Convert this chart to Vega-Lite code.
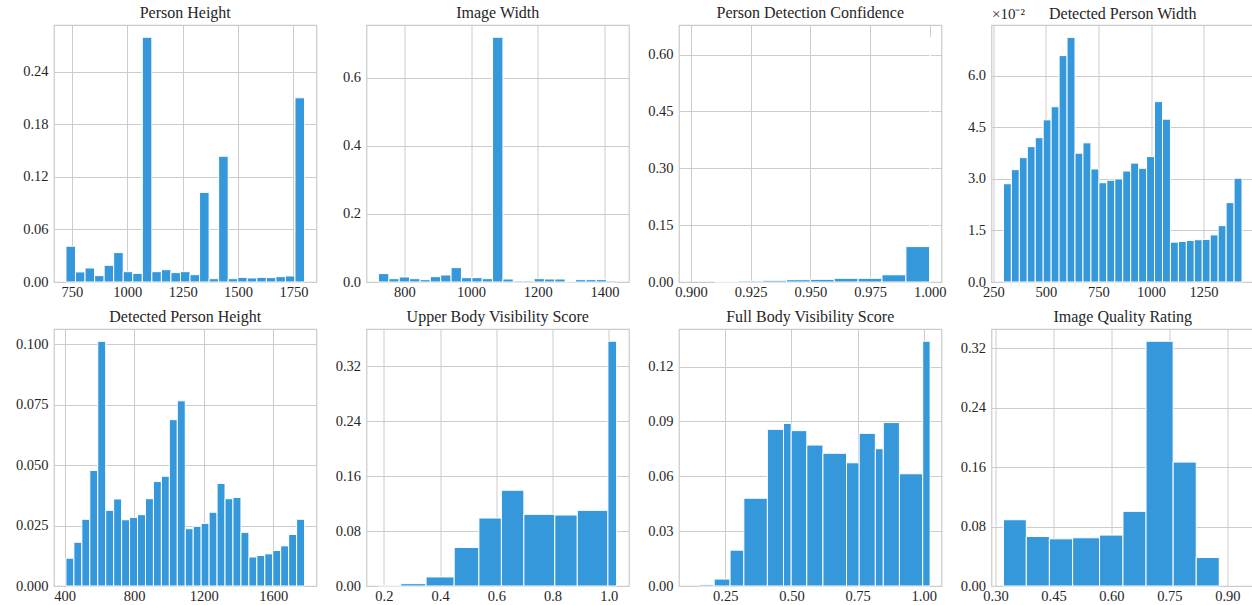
{
  "$schema": "https://vega.github.io/schema/vega-lite/v6.json",
  "padding": {"left": 14, "top": 4, "right": 0, "bottom": 0},
  "background": "white",
  "columns": 4,
  "bounds": "flush",
  "spacing": {"row": 47, "column": 49.5},
  "config": {
    "font": "Liberation Serif",
    "view": {"stroke": "#cccccc", "strokeWidth": 1.25},
    "axis": {"grid": true, "gridColor": "#cccccc", "gridWidth": 1, "domain": false, "ticks": false, "labelFont": "Liberation Serif", "labelFontSize": 14.5, "labelColor": "#262626", "labelFlush": false, "labelOverlap": false, "title": null},
    "axisX": {"labelPadding": 3},
    "axisY": {"labelPadding": 6},
    "title": {"font": "Liberation Serif", "fontSize": 16, "fontWeight": "normal", "color": "#262626", "offset": 4, "anchor": "middle", "frame": "group"},
    "bar": {"color": "#3498db", "stroke": "white", "strokeWidth": 1}
  },
  "concat": [
    {
      "title": "Person Height",
      "width": 262.5, "height": 257,
      "data": {"values": [
        {"x0": 723, "x1": 766.08, "y": 0.0409},
        {"x0": 766.08, "x1": 809.16, "y": 0.0115},
        {"x0": 809.16, "x1": 852.24, "y": 0.016},
        {"x0": 852.24, "x1": 895.32, "y": 0.0073},
        {"x0": 895.32, "x1": 938.4, "y": 0.0191},
        {"x0": 938.4, "x1": 981.48, "y": 0.0336},
        {"x0": 981.48, "x1": 1024.56, "y": 0.0118},
        {"x0": 1024.56, "x1": 1067.64, "y": 0.0099},
        {"x0": 1067.64, "x1": 1110.72, "y": 0.2797},
        {"x0": 1110.72, "x1": 1153.8, "y": 0.0118},
        {"x0": 1153.8, "x1": 1196.88, "y": 0.0141},
        {"x0": 1196.88, "x1": 1239.96, "y": 0.0107},
        {"x0": 1239.96, "x1": 1283.04, "y": 0.0118},
        {"x0": 1283.04, "x1": 1326.12, "y": 0.0084},
        {"x0": 1326.12, "x1": 1369.2, "y": 0.1024},
        {"x0": 1369.2, "x1": 1412.28, "y": 0.0038},
        {"x0": 1412.28, "x1": 1455.36, "y": 0.1437},
        {"x0": 1455.36, "x1": 1498.44, "y": 0.0038},
        {"x0": 1498.44, "x1": 1541.52, "y": 0.0053},
        {"x0": 1541.52, "x1": 1584.6, "y": 0.0046},
        {"x0": 1584.6, "x1": 1627.68, "y": 0.0053},
        {"x0": 1627.68, "x1": 1670.76, "y": 0.005},
        {"x0": 1670.76, "x1": 1713.84, "y": 0.0061},
        {"x0": 1713.84, "x1": 1756.92, "y": 0.0069},
        {"x0": 1756.92, "x1": 1800, "y": 0.2105}
      ]},
      "mark": "bar",
      "encoding": {
        "x": {"field": "x0", "type": "quantitative", "scale": {"domain": [669, 1854], "nice": false, "zero": false}, "axis": {"values": [750, 1000, 1250, 1500, 1750], "format": "d"}},
        "x2": {"field": "x1"},
        "y": {"field": "y", "type": "quantitative", "scale": {"domain": [0, 0.2937], "nice": false}, "axis": {"values": [0, 0.06, 0.12, 0.18, 0.24], "format": ".2f"}},
        "y2": {"datum": 0}
      }
    },
    {
      "title": "Image Width",
      "width": 262.5, "height": 257,
      "data": {"values": [
        {"x0": 722.5, "x1": 753.6, "y": 0.0246},
        {"x0": 753.6, "x1": 784.7, "y": 0.0098},
        {"x0": 784.7, "x1": 815.8, "y": 0.0147},
        {"x0": 815.8, "x1": 846.9, "y": 0.0098},
        {"x0": 846.9, "x1": 878.0, "y": 0.0069},
        {"x0": 878.0, "x1": 909.1, "y": 0.0157},
        {"x0": 909.1, "x1": 940.2, "y": 0.0206},
        {"x0": 940.2, "x1": 971.3, "y": 0.0422},
        {"x0": 971.3, "x1": 1002.4, "y": 0.0128},
        {"x0": 1002.4, "x1": 1033.5, "y": 0.0128},
        {"x0": 1033.5, "x1": 1064.6, "y": 0.0098},
        {"x0": 1064.6, "x1": 1095.7, "y": 0.7188},
        {"x0": 1095.7, "x1": 1126.8, "y": 0.0088},
        {"x0": 1126.8, "x1": 1157.9, "y": 0.003},
        {"x0": 1157.9, "x1": 1189.0, "y": 0.003},
        {"x0": 1189.0, "x1": 1220.1, "y": 0.0098},
        {"x0": 1220.1, "x1": 1251.2, "y": 0.0088},
        {"x0": 1251.2, "x1": 1282.3, "y": 0.0088},
        {"x0": 1282.3, "x1": 1313.4, "y": 0.002},
        {"x0": 1313.4, "x1": 1344.5, "y": 0.0069},
        {"x0": 1344.5, "x1": 1375.6, "y": 0.0069},
        {"x0": 1375.6, "x1": 1406.7, "y": 0.0069},
        {"x0": 1406.7, "x1": 1437.8, "y": 0.003}
      ]},
      "mark": "bar",
      "encoding": {
        "x": {"field": "x0", "type": "quantitative", "scale": {"domain": [686.7, 1473.6], "nice": false, "zero": false}, "axis": {"values": [800, 1000, 1200, 1400], "format": "d"}},
        "x2": {"field": "x1"},
        "y": {"field": "y", "type": "quantitative", "scale": {"domain": [0, 0.7547], "nice": false}, "axis": {"values": [0, 0.2, 0.4, 0.6], "format": ".1f"}},
        "y2": {"datum": 0}
      }
    },
    {
      "title": "Person Detection Confidence",
      "width": 262.5, "height": 257,
      "data": {"values": [
        {"x0": 0.91, "x1": 0.92, "y": 0.0009},
        {"x0": 0.92, "x1": 0.93, "y": 0.0026},
        {"x0": 0.93, "x1": 0.94, "y": 0.0044},
        {"x0": 0.94, "x1": 0.95, "y": 0.006},
        {"x0": 0.95, "x1": 0.96, "y": 0.007},
        {"x0": 0.96, "x1": 0.97, "y": 0.0097},
        {"x0": 0.97, "x1": 0.98, "y": 0.0097},
        {"x0": 0.98, "x1": 0.99, "y": 0.019},
        {"x0": 0.99, "x1": 0.99995, "y": 0.0934},
        {"x0": 1.0001, "x1": 1.0003, "y": 0.646}
      ]},
      "mark": "bar",
      "encoding": {
        "x": {"field": "x0", "type": "quantitative", "scale": {"domain": [0.895, 1.0049], "nice": false, "zero": false}, "axis": {"values": [0.9, 0.925, 0.95, 0.975, 1.0], "format": ".3f"}},
        "x2": {"field": "x1"},
        "y": {"field": "y", "type": "quantitative", "scale": {"domain": [0, 0.678], "nice": false}, "axis": {"values": [0, 0.15, 0.3, 0.45, 0.6], "format": ".2f"}},
        "y2": {"datum": 0}
      }
    },
    {
      "title": {"text": "Detected Person Width", "offset": -16},
      "width": 262.5, "height": 257,
      "data": {"values": [
        {"x0": 297.8, "x1": 335.64, "y": 0.0286},
        {"x0": 335.64, "x1": 373.48, "y": 0.0327},
        {"x0": 373.48, "x1": 411.32, "y": 0.0362},
        {"x0": 411.32, "x1": 449.16, "y": 0.0394},
        {"x0": 449.16, "x1": 487.0, "y": 0.042},
        {"x0": 487.0, "x1": 524.84, "y": 0.0472},
        {"x0": 524.84, "x1": 562.68, "y": 0.051},
        {"x0": 562.68, "x1": 600.52, "y": 0.0659},
        {"x0": 600.52, "x1": 638.36, "y": 0.0712},
        {"x0": 638.36, "x1": 676.2, "y": 0.0375},
        {"x0": 676.2, "x1": 714.04, "y": 0.0405},
        {"x0": 714.04, "x1": 751.88, "y": 0.0329},
        {"x0": 751.88, "x1": 789.72, "y": 0.0289},
        {"x0": 789.72, "x1": 827.56, "y": 0.0296},
        {"x0": 827.56, "x1": 865.4, "y": 0.03},
        {"x0": 865.4, "x1": 903.24, "y": 0.0323},
        {"x0": 903.24, "x1": 941.08, "y": 0.0346},
        {"x0": 941.08, "x1": 978.92, "y": 0.0331},
        {"x0": 978.92, "x1": 1016.76, "y": 0.0365},
        {"x0": 1016.76, "x1": 1054.6, "y": 0.0525},
        {"x0": 1054.6, "x1": 1092.44, "y": 0.0474},
        {"x0": 1092.44, "x1": 1130.28, "y": 0.0116},
        {"x0": 1130.28, "x1": 1168.12, "y": 0.0118},
        {"x0": 1168.12, "x1": 1205.96, "y": 0.0121},
        {"x0": 1205.96, "x1": 1243.8, "y": 0.0123},
        {"x0": 1243.8, "x1": 1281.64, "y": 0.0124},
        {"x0": 1281.64, "x1": 1319.48, "y": 0.0137},
        {"x0": 1319.48, "x1": 1357.32, "y": 0.0164},
        {"x0": 1357.32, "x1": 1395.16, "y": 0.0231},
        {"x0": 1395.16, "x1": 1433.0, "y": 0.0302}
      ]},
      "mark": "bar",
      "encoding": {
        "x": {"field": "x0", "type": "quantitative", "scale": {"domain": [241, 1490], "nice": false, "zero": false}, "axis": {"values": [250, 500, 750, 1000, 1250], "format": "d"}},
        "x2": {"field": "x1"},
        "y": {"field": "y", "type": "quantitative", "scale": {"domain": [0, 0.0748], "nice": false}, "axis": {"values": [0, 0.015, 0.03, 0.045, 0.06], "labelExpr": "format(datum.value * 100, '.1f')", "title": "×10⁻²", "titleAngle": 0, "titleAlign": "left", "titleBaseline": "bottom", "titleX": 0, "titleY": -4, "titleFont": "Liberation Serif", "titleFontSize": 15, "titleFontWeight": "normal", "titleColor": "#262626"}},
        "y2": {"datum": 0}
      }
    },
    {
      "title": "Detected Person Height",
      "width": 262.5, "height": 257,
      "data": {"values": [
        {"x0": 407.7, "x1": 453.46, "y": 0.0115},
        {"x0": 453.46, "x1": 499.23, "y": 0.0181},
        {"x0": 499.23, "x1": 544.99, "y": 0.0276},
        {"x0": 544.99, "x1": 590.75, "y": 0.0478},
        {"x0": 590.75, "x1": 636.52, "y": 0.1012},
        {"x0": 636.52, "x1": 682.28, "y": 0.0313},
        {"x0": 682.28, "x1": 728.04, "y": 0.036},
        {"x0": 728.04, "x1": 773.8, "y": 0.0274},
        {"x0": 773.8, "x1": 819.57, "y": 0.0284},
        {"x0": 819.57, "x1": 865.33, "y": 0.0295},
        {"x0": 865.33, "x1": 911.09, "y": 0.0361},
        {"x0": 911.09, "x1": 956.86, "y": 0.0432},
        {"x0": 956.86, "x1": 1002.62, "y": 0.0454},
        {"x0": 1002.62, "x1": 1048.38, "y": 0.0688},
        {"x0": 1048.38, "x1": 1094.15, "y": 0.0766},
        {"x0": 1094.15, "x1": 1139.91, "y": 0.0237},
        {"x0": 1139.91, "x1": 1185.67, "y": 0.0247},
        {"x0": 1185.67, "x1": 1231.43, "y": 0.0259},
        {"x0": 1231.43, "x1": 1277.2, "y": 0.0305},
        {"x0": 1277.2, "x1": 1322.96, "y": 0.0424},
        {"x0": 1322.96, "x1": 1368.72, "y": 0.0361},
        {"x0": 1368.72, "x1": 1414.49, "y": 0.0366},
        {"x0": 1414.49, "x1": 1460.25, "y": 0.0222},
        {"x0": 1460.25, "x1": 1506.01, "y": 0.012},
        {"x0": 1506.01, "x1": 1551.78, "y": 0.0126},
        {"x0": 1551.78, "x1": 1597.54, "y": 0.0133},
        {"x0": 1597.54, "x1": 1643.3, "y": 0.0147},
        {"x0": 1643.3, "x1": 1689.06, "y": 0.0166},
        {"x0": 1689.06, "x1": 1734.83, "y": 0.0213},
        {"x0": 1734.83, "x1": 1780.59, "y": 0.0276}
      ]},
      "mark": "bar",
      "encoding": {
        "x": {"field": "x0", "type": "quantitative", "scale": {"domain": [339, 1849.2], "nice": false, "zero": false}, "axis": {"values": [400, 800, 1200, 1600], "format": "d"}},
        "x2": {"field": "x1"},
        "y": {"field": "y", "type": "quantitative", "scale": {"domain": [0, 0.1063], "nice": false}, "axis": {"values": [0, 0.025, 0.05, 0.075, 0.1], "format": ".3f"}},
        "y2": {"datum": 0}
      }
    },
    {
      "title": "Upper Body Visibility Score",
      "width": 262.5, "height": 257,
      "data": {"values": [
        {"x0": 0.18, "x1": 0.26, "y": 0.001},
        {"x0": 0.26, "x1": 0.35, "y": 0.0034},
        {"x0": 0.35, "x1": 0.45, "y": 0.0132},
        {"x0": 0.45, "x1": 0.538, "y": 0.0561},
        {"x0": 0.538, "x1": 0.618, "y": 0.099},
        {"x0": 0.618, "x1": 0.698, "y": 0.1395},
        {"x0": 0.698, "x1": 0.808, "y": 0.1044},
        {"x0": 0.808, "x1": 0.888, "y": 0.1034},
        {"x0": 0.888, "x1": 0.997, "y": 0.1102},
        {"x0": 0.997, "x1": 1.028, "y": 0.3566}
      ]},
      "mark": "bar",
      "encoding": {
        "x": {"field": "x0", "type": "quantitative", "scale": {"domain": [0.138, 1.072], "nice": false, "zero": false}, "axis": {"values": [0.2, 0.4, 0.6, 0.8, 1.0], "format": ".1f"}},
        "x2": {"field": "x1"},
        "y": {"field": "y", "type": "quantitative", "scale": {"domain": [0, 0.3744], "nice": false}, "axis": {"values": [0, 0.08, 0.16, 0.24, 0.32], "format": ".2f"}},
        "y2": {"datum": 0}
      }
    },
    {
      "title": "Full Body Visibility Score",
      "width": 262.5, "height": 257,
      "data": {"values": [
        {"x0": 0.152, "x1": 0.208, "y": 0.0007},
        {"x0": 0.208, "x1": 0.268, "y": 0.0038},
        {"x0": 0.268, "x1": 0.32, "y": 0.0196},
        {"x0": 0.32, "x1": 0.409, "y": 0.048},
        {"x0": 0.409, "x1": 0.47, "y": 0.0857},
        {"x0": 0.47, "x1": 0.499, "y": 0.0889},
        {"x0": 0.499, "x1": 0.558, "y": 0.085},
        {"x0": 0.558, "x1": 0.619, "y": 0.0771},
        {"x0": 0.619, "x1": 0.708, "y": 0.0726},
        {"x0": 0.708, "x1": 0.756, "y": 0.0674},
        {"x0": 0.756, "x1": 0.817, "y": 0.0835},
        {"x0": 0.817, "x1": 0.847, "y": 0.0751},
        {"x0": 0.847, "x1": 0.908, "y": 0.0894},
        {"x0": 0.908, "x1": 0.996, "y": 0.0614},
        {"x0": 0.996, "x1": 1.024, "y": 0.1339}
      ]},
      "mark": "bar",
      "encoding": {
        "x": {"field": "x0", "type": "quantitative", "scale": {"domain": [0.075, 1.067], "nice": false, "zero": false}, "axis": {"values": [0.25, 0.5, 0.75, 1.0], "format": ".2f"}},
        "x2": {"field": "x1"},
        "y": {"field": "y", "type": "quantitative", "scale": {"domain": [0, 0.1406], "nice": false}, "axis": {"values": [0, 0.03, 0.06, 0.09, 0.12], "format": ".2f"}},
        "y2": {"datum": 0}
      }
    },
    {
      "title": "Image Quality Rating",
      "width": 262.5, "height": 257,
      "data": {"values": [
        {"x0": 0.3205, "x1": 0.3797, "y": 0.0892},
        {"x0": 0.3797, "x1": 0.4394, "y": 0.0667},
        {"x0": 0.4394, "x1": 0.4996, "y": 0.0635},
        {"x0": 0.4996, "x1": 0.5693, "y": 0.0649},
        {"x0": 0.5693, "x1": 0.6299, "y": 0.0685},
        {"x0": 0.6299, "x1": 0.6896, "y": 0.1005},
        {"x0": 0.6896, "x1": 0.7597, "y": 0.3295},
        {"x0": 0.7597, "x1": 0.8195, "y": 0.1668},
        {"x0": 0.8195, "x1": 0.879, "y": 0.0383}
      ]},
      "mark": "bar",
      "encoding": {
        "x": {"field": "x0", "type": "quantitative", "scale": {"domain": [0.2896, 0.969], "nice": false, "zero": false}, "axis": {"values": [0.3, 0.45, 0.6, 0.75, 0.9], "format": ".2f"}},
        "x2": {"field": "x1"},
        "y": {"field": "y", "type": "quantitative", "scale": {"domain": [0, 0.346], "nice": false}, "axis": {"values": [0, 0.08, 0.16, 0.24, 0.32], "format": ".2f"}},
        "y2": {"datum": 0}
      }
    }
  ]
}
